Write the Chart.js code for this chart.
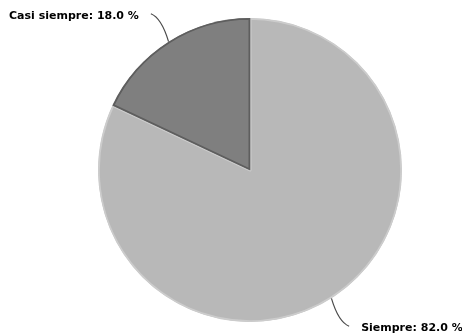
<!DOCTYPE html>
<html>
<head>
<meta charset="utf-8">
<script src="https://cdn.jsdelivr.net/npm/chart.js@4"></script>
<style>
  html, body { margin: 0; padding: 0; background: #fff; }
  #wrap { width: 462px; height: 333px; }
</style>
</head>
<body>
<div id="wrap"><canvas id="pie"></canvas></div>
<script>
// respuestas de la encuesta (%)
const categories = ['Siempre', 'Casi siempre'];
const values = [82.0, 18.0];
const sliceColors = ['#b8b8b8', '#7f7f7f'];
const edgeColors = ['#cccccc', '#5e5e5e'];

// etiquetas con linea guia curva fuera del pastel
const calloutLabels = {
  id: 'calloutLabels',
  afterDatasetsDraw(chart) {
    const ctx = chart.ctx;
    const arcs = chart.getDatasetMeta(0).data;
    ctx.save();
    ctx.font = 'bold 11px "DejaVu Sans", sans-serif';
    ctx.textBaseline = 'middle';
    arcs.forEach((arc, i) => {
      const { x, y, startAngle, endAngle, outerRadius } = arc.getProps(['x', 'y', 'startAngle', 'endAngle', 'outerRadius'], true);
      const mid = (startAngle + endAngle) / 2;
      const cos = Math.cos(mid), sin = Math.sin(mid);
      const ex = x + cos * outerRadius, ey = y + sin * outerRadius;
      const dx = cos * 33, dy = sin * 33;
      const tx = ex + dx, ty = ey + dy;
      const cx = ex + dx * 0.4, cy = ey + dy * 0.85;

      ctx.strokeStyle = '#4a4a4a';
      ctx.lineWidth = 1.2;
      ctx.beginPath();
      ctx.moveTo(ex, ey);
      ctx.quadraticCurveTo(cx, cy, tx, ty);
      ctx.stroke();

      const right = cos >= 0;
      ctx.textAlign = right ? 'left' : 'right';
      ctx.fillStyle = '#000';
      const label = categories[i] + ': ' + values[i].toFixed(1) + ' %';
      ctx.fillText(label, tx + (right ? 12 : -12), ty + 2);
    });
    ctx.restore();
  }
};

new Chart(document.getElementById('pie'), {
  type: 'pie',
  data: {
    labels: categories,
    datasets: [{
      data: values,
      backgroundColor: sliceColors,
      borderColor: edgeColors,
      borderWidth: 1.5,
      borderAlign: 'inner'
    }]
  },
  options: {
    responsive: true,
    maintainAspectRatio: false,
    animation: false,
    layout: { padding: { top: 18, bottom: 11, left: 98, right: 60 } },
    plugins: {
      legend: { display: false },
      tooltip: { enabled: false }
    }
  },
  plugins: [calloutLabels]
});
</script>
</body>
</html>
